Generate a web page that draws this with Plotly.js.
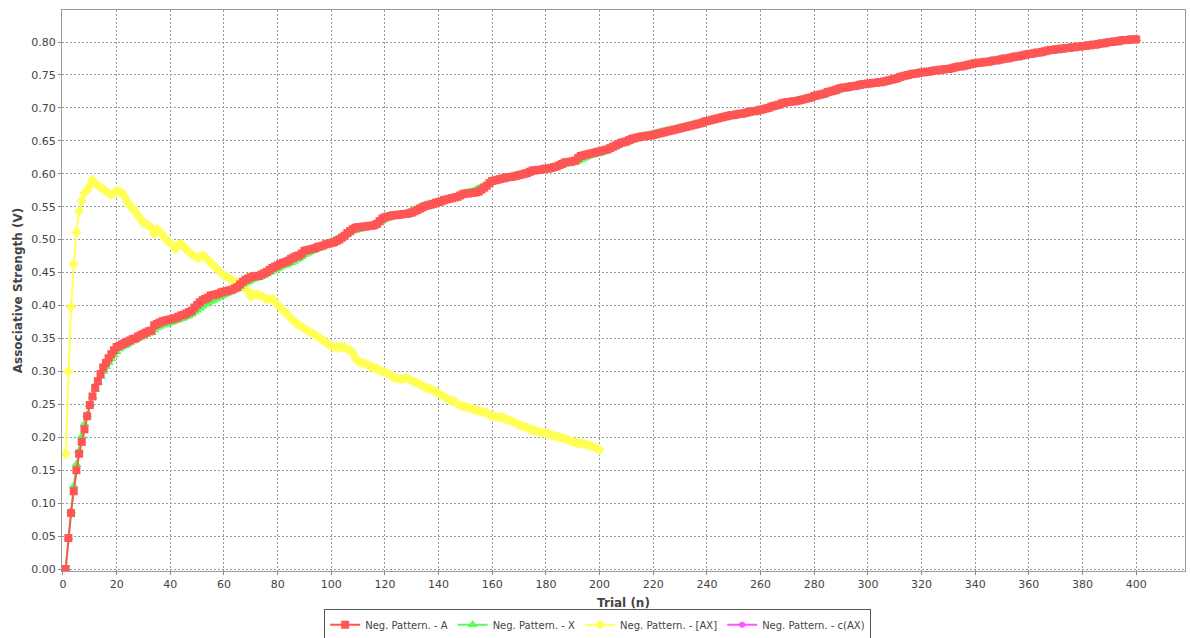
<!DOCTYPE html>
<html>
<head>
<meta charset="utf-8">
<script src="https://cdn.plot.ly/plotly-3.0.1.min.js"></script>
<style>html,body{margin:0;padding:0;background:#fff;}#chart{width:1190px;height:638px;}</style>
</head>
<body>
<div id="chart"></div>
<script>
// Series names
const seriesNames = ["Neg. Pattern. - A", "Neg. Pattern. - X", "Neg. Pattern. - [AX]", "Neg. Pattern. - c(AX)"];

// Neg. Pattern. - A (trials 1..400)
const valuesA = [
0.000,0.047,0.085,0.118,0.150,0.175,0.193,0.212,0.232,0.249,
0.262,0.275,0.285,0.296,0.306,0.313,0.320,0.326,0.332,0.337,
0.339,0.341,0.343,0.345,0.347,0.349,0.350,0.353,0.355,0.357,
0.359,0.361,0.362,0.370,0.372,0.374,0.376,0.377,0.378,0.379,
0.380,0.381,0.383,0.385,0.386,0.388,0.390,0.392,0.397,0.401,
0.405,0.408,0.410,0.412,0.415,0.416,0.417,0.418,0.420,0.421,
0.422,0.423,0.424,0.426,0.428,0.432,0.436,0.439,0.441,0.443,
0.444,0.445,0.445,0.447,0.449,0.451,0.454,0.457,0.459,0.461,
0.463,0.465,0.466,0.468,0.471,0.473,0.475,0.476,0.479,0.483,
0.484,0.485,0.486,0.487,0.489,0.490,0.491,0.493,0.494,0.495,
0.496,0.498,0.500,0.503,0.506,0.510,0.513,0.516,0.518,0.519,
0.519,0.520,0.520,0.521,0.521,0.522,0.524,0.528,0.532,0.534,
0.535,0.536,0.537,0.537,0.538,0.538,0.539,0.539,0.540,0.541,
0.543,0.545,0.547,0.549,0.551,0.552,0.553,0.554,0.556,0.557,
0.558,0.560,0.561,0.562,0.563,0.564,0.565,0.567,0.569,0.570,
0.570,0.571,0.571,0.572,0.573,0.576,0.579,0.582,0.586,0.589,
0.590,0.591,0.592,0.593,0.594,0.595,0.595,0.596,0.597,0.598,
0.599,0.600,0.601,0.603,0.605,0.605,0.606,0.606,0.607,0.608,
0.608,0.609,0.610,0.611,0.613,0.615,0.617,0.618,0.618,0.619,
0.620,0.624,0.627,0.628,0.629,0.630,0.631,0.632,0.633,0.634,
0.635,0.636,0.637,0.639,0.641,0.643,0.645,0.647,0.648,0.649,
0.651,0.653,0.654,0.655,0.656,0.657,0.657,0.658,0.658,0.659,
0.660,0.661,0.662,0.663,0.664,0.665,0.666,0.667,0.668,0.669,
0.670,0.671,0.672,0.673,0.674,0.675,0.676,0.677,0.679,0.680,
0.681,0.682,0.683,0.684,0.685,0.686,0.687,0.688,0.689,0.689,
0.690,0.691,0.691,0.692,0.693,0.694,0.695,0.695,0.696,0.697,
0.698,0.699,0.700,0.702,0.703,0.704,0.705,0.707,0.708,0.709,
0.709,0.710,0.710,0.711,0.712,0.713,0.714,0.715,0.716,0.718,
0.719,0.720,0.721,0.722,0.724,0.725,0.726,0.727,0.729,0.730,
0.731,0.731,0.732,0.733,0.733,0.734,0.735,0.736,0.736,0.737,
0.737,0.738,0.738,0.739,0.739,0.740,0.741,0.742,0.743,0.744,
0.745,0.747,0.748,0.749,0.750,0.751,0.752,0.752,0.753,0.754,
0.754,0.755,0.755,0.756,0.757,0.757,0.758,0.758,0.759,0.759,
0.760,0.761,0.762,0.763,0.763,0.764,0.765,0.766,0.767,0.768,
0.768,0.769,0.769,0.770,0.770,0.771,0.772,0.772,0.773,0.774,
0.775,0.775,0.776,0.777,0.778,0.778,0.779,0.780,0.781,0.782,
0.782,0.783,0.784,0.784,0.785,0.786,0.787,0.788,0.788,0.789,
0.789,0.790,0.790,0.791,0.791,0.792,0.792,0.793,0.793,0.794,
0.794,0.795,0.795,0.796,0.796,0.797,0.798,0.798,0.799,0.800,
0.800,0.801,0.801,0.802,0.803,0.803,0.803,0.804,0.804,0.804
];

// Neg. Pattern. - X (trials 1..400)
const valuesX = [
0.000,0.048,0.088,0.126,0.159,0.180,0.202,0.220,0.234,0.250,
0.262,0.273,0.283,0.292,0.300,0.307,0.313,0.319,0.325,0.330,
0.334,0.337,0.339,0.341,0.344,0.346,0.348,0.350,0.352,0.354,
0.356,0.358,0.359,0.363,0.366,0.368,0.370,0.371,0.372,0.374,
0.375,0.377,0.378,0.380,0.381,0.383,0.385,0.387,0.390,0.393,
0.396,0.399,0.402,0.404,0.406,0.408,0.410,0.412,0.414,0.416,
0.418,0.420,0.422,0.424,0.426,0.429,0.432,0.434,0.436,0.438,
0.440,0.441,0.442,0.444,0.446,0.448,0.450,0.452,0.454,0.456,
0.458,0.460,0.461,0.463,0.465,0.467,0.469,0.471,0.474,0.477,
0.479,0.481,0.483,0.485,0.487,0.489,0.491,0.493,0.495,0.497,
0.499,0.501,0.503,0.505,0.507,0.509,0.511,0.513,0.514,0.515,
0.516,0.517,0.518,0.519,0.520,0.521,0.523,0.526,0.529,0.531,
0.533,0.534,0.535,0.536,0.537,0.538,0.539,0.540,0.542,0.544,
0.545,0.547,0.549,0.551,0.553,0.554,0.555,0.556,0.557,0.558,
0.559,0.560,0.561,0.562,0.563,0.564,0.566,0.568,0.570,0.571,
0.572,0.573,0.574,0.576,0.578,0.580,0.582,0.584,0.586,0.588,
0.589,0.590,0.591,0.592,0.593,0.594,0.595,0.596,0.597,0.598,
0.599,0.600,0.601,0.602,0.603,0.604,0.605,0.606,0.607,0.607,
0.608,0.609,0.610,0.611,0.612,0.613,0.614,0.615,0.616,0.617,
0.618,0.619,0.621,0.623,0.625,0.627,0.628,0.629,0.630,0.631,
0.633,0.635,0.637,0.639,0.641,0.643,0.644,0.645,0.646,0.647,
0.649,0.651,0.653,0.655,0.656,0.657,0.658,0.659,0.660,0.661,
0.662,0.663,0.664,0.665,0.666,0.666,0.667,0.668,0.669,0.670,
0.671,0.672,0.673,0.674,0.675,0.676,0.677,0.678,0.679,0.680,
0.681,0.682,0.683,0.684,0.685,0.686,0.687,0.688,0.689,0.690,
0.690,0.691,0.692,0.693,0.693,0.694,0.695,0.696,0.697,0.697,
0.698,0.699,0.700,0.701,0.702,0.703,0.704,0.705,0.706,0.707,
0.708,0.708,0.709,0.710,0.711,0.712,0.713,0.714,0.715,0.716,
0.717,0.718,0.719,0.720,0.722,0.723,0.724,0.725,0.727,0.728,
0.729,0.730,0.731,0.732,0.733,0.734,0.734,0.735,0.735,0.736,
0.736,0.737,0.737,0.738,0.739,0.740,0.741,0.742,0.743,0.744,
0.745,0.746,0.747,0.748,0.749,0.750,0.751,0.751,0.752,0.753,
0.753,0.754,0.755,0.755,0.756,0.757,0.757,0.758,0.758,0.759,
0.760,0.760,0.761,0.762,0.763,0.763,0.764,0.765,0.766,0.767,
0.767,0.768,0.769,0.769,0.770,0.771,0.771,0.772,0.773,0.774,
0.774,0.775,0.776,0.776,0.777,0.778,0.779,0.779,0.780,0.781,
0.782,0.783,0.783,0.784,0.785,0.786,0.786,0.787,0.788,0.788,
0.789,0.789,0.790,0.790,0.791,0.791,0.792,0.792,0.793,0.793,
0.794,0.794,0.795,0.796,0.796,0.797,0.797,0.798,0.799,0.799,
0.800,0.800,0.801,0.801,0.802,0.802,0.803,0.803,0.804,0.805
];

// Neg. Pattern. - [AX] (trials 1..200)
const valuesAX = [
0.175,0.300,0.398,0.463,0.511,0.543,0.559,0.571,0.575,0.582,
0.591,0.586,0.582,0.579,0.577,0.574,0.570,0.568,0.571,0.574,
0.573,0.571,0.565,0.558,0.551,0.548,0.542,0.536,0.531,0.525,
0.523,0.521,0.518,0.509,0.516,0.513,0.508,0.502,0.498,0.495,
0.491,0.486,0.492,0.494,0.489,0.485,0.481,0.478,0.475,0.472,
0.474,0.476,0.474,0.470,0.465,0.461,0.457,0.453,0.449,0.446,
0.444,0.441,0.439,0.437,0.434,0.431,0.428,0.426,0.422,0.414,
0.416,0.417,0.415,0.415,0.412,0.409,0.410,0.410,0.405,0.401,
0.397,0.393,0.389,0.385,0.381,0.376,0.373,0.370,0.368,0.365,
0.362,0.360,0.358,0.355,0.352,0.350,0.347,0.344,0.341,0.339,
0.337,0.337,0.337,0.336,0.337,0.334,0.332,0.328,0.320,0.315,
0.313,0.313,0.311,0.309,0.307,0.305,0.304,0.302,0.300,0.299,
0.297,0.294,0.291,0.290,0.289,0.288,0.289,0.290,0.288,0.286,
0.284,0.283,0.280,0.278,0.276,0.274,0.273,0.271,0.269,0.267,
0.264,0.262,0.259,0.257,0.255,0.254,0.251,0.248,0.247,0.246,
0.245,0.244,0.243,0.241,0.240,0.239,0.238,0.237,0.234,0.232,
0.231,0.231,0.230,0.230,0.228,0.226,0.225,0.223,0.221,0.219,
0.217,0.216,0.214,0.212,0.211,0.210,0.209,0.208,0.207,0.206,
0.205,0.203,0.202,0.201,0.200,0.199,0.198,0.196,0.195,0.193,
0.192,0.191,0.191,0.190,0.189,0.188,0.187,0.185,0.183,0.181
];

// Neg. Pattern. - c(AX): no visible values in the chart
const valuesCAX = [null];

// Axis tick values
const xTicks = [0,20,40,60,80,100,120,140,160,180,200,220,240,260,280,300,320,340,360,380,400];
const yTicks = [0.00,0.05,0.10,0.15,0.20,0.25,0.30,0.35,0.40,0.45,0.50,0.55,0.60,0.65,0.70,0.75,0.80];

const trialsOf = arr => arr.map((_, i) => i + 1);

const colors = ["#ff5555", "#55ff55", "#ffff55", "#ff55ff"];

const traces = [
  { name: seriesNames[3], x: trialsOf(valuesCAX), y: valuesCAX, mode: "lines+markers", legendrank: 4,
    line: {color: colors[3], width: 2}, marker: {symbol: "circle", size: 6, color: colors[3]} },
  { name: seriesNames[2], x: trialsOf(valuesAX), y: valuesAX, mode: "lines+markers", legendrank: 3,
    line: {color: colors[2], width: 2}, marker: {symbol: "diamond", size: 8, color: colors[2]} },
  { name: seriesNames[1], x: trialsOf(valuesX), y: valuesX, mode: "lines+markers", legendrank: 2,
    line: {color: colors[1], width: 2}, marker: {symbol: "triangle-up", size: 9, color: colors[1]} },
  { name: seriesNames[0], x: trialsOf(valuesA), y: valuesA, mode: "lines+markers", legendrank: 1,
    line: {color: colors[0], width: 2}, marker: {symbol: "square", size: 8, color: colors[0]} }
];

const tickFont = {family: "DejaVu Sans, sans-serif", size: 11, color: "#444444"};
const titleFont = {family: "DejaVu Sans, sans-serif", size: 12, color: "#444444", weight: "bold"};

const layout = {
  width: 1190, height: 638,
  margin: {l: 62, r: 5, t: 10, b: 67, autoexpand: false},
  paper_bgcolor: "#ffffff", plot_bgcolor: "#ffffff",
  showlegend: true,
  legend: {
    orientation: "h", x: 0.477, xanchor: "center", y: -0.068, yanchor: "top",
    bordercolor: "#555555", borderwidth: 1, bgcolor: "#ffffff",
    font: {family: "DejaVu Sans, sans-serif", size: 10, color: "#444444"},
    itemwidth: 30, tracegroupgap: 0
  },
  xaxis: {
    range: [-0.37, 418.2], tickvals: xTicks, ticktext: xTicks.map(String),
    showgrid: true, gridcolor: "#999999", griddash: "2px,2px", gridwidth: 1,
    zeroline: false, showline: true, linecolor: "#999999", linewidth: 1, mirror: true,
    ticks: "outside", ticklen: 3, tickcolor: "#888888",
    tickfont: tickFont,
    title: {text: "Trial (n)", font: titleFont, standoff: 8}
  },
  yaxis: {
    range: [-0.003, 0.8486], tickvals: yTicks, ticktext: yTicks.map(v => v.toFixed(2)),
    showgrid: true, gridcolor: "#999999", griddash: "2px,2px", gridwidth: 1,
    zeroline: false, showline: true, linecolor: "#999999", linewidth: 1, mirror: true,
    ticks: "outside", ticklen: 3, tickcolor: "#888888",
    tickfont: tickFont,
    title: {text: "Associative Strength (V)", font: titleFont, standoff: 6}
  }
};

Plotly.newPlot("chart", traces, layout, {displayModeBar: false, staticPlot: true});
</script>
</body>
</html>
